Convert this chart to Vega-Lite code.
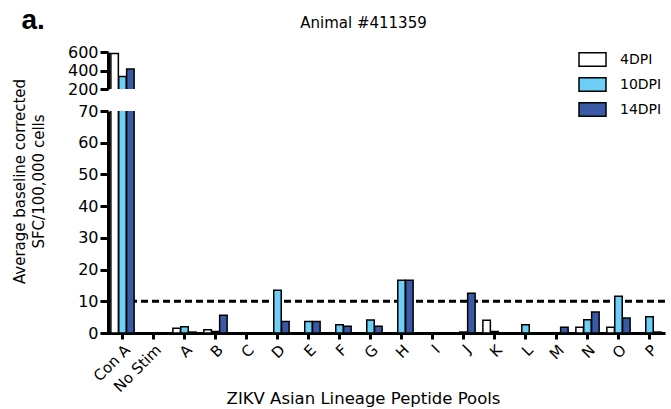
{
  "$schema": "https://vega.github.io/schema/vega-lite/v6.json",
  "padding": {"left": 11, "top": 6, "right": 2, "bottom": 0},
  "background": "white",
  "config": {
    "font": "DejaVu Sans",
    "view": {"stroke": null},
    "axis": {
      "domainColor": "black", "domainWidth": 3, "tickColor": "black", "tickWidth": 3,
      "labelColor": "black", "titleColor": "black", "labelFont": "DejaVu Sans",
      "titleFont": "DejaVu Sans", "grid": false, "titleFontWeight": "normal", "labelOverlap": false
    },
    "axisY": {"tickSize": 8, "labelFontSize": 16, "labelPadding": 2},
    "axisX": {"tickSize": 6, "labelFontSize": 15, "labelPadding": 3},
    "legend": {
      "orient": "none", "legendX": 471, "legendY": -7, "title": null,
      "symbolType": "M-1,-0.5H1V0.5H-1Z", "symbolSize": 729,
      "symbolStrokeColor": "black", "symbolStrokeWidth": 1.5,
      "labelFontSize": 14, "labelColor": "black", "labelFont": "DejaVu Sans",
      "labelOffset": 13, "rowPadding": -3, "padding": 0
    }
  },
  "datasets": {
    "spots": [
      {"pool": "Con A", "dpi": "4DPI", "value": 585},
      {"pool": "Con A", "dpi": "10DPI", "value": 334},
      {"pool": "Con A", "dpi": "14DPI", "value": 415},
      {"pool": "No Stim", "dpi": "4DPI", "value": 0},
      {"pool": "No Stim", "dpi": "10DPI", "value": 0},
      {"pool": "No Stim", "dpi": "14DPI", "value": 0},
      {"pool": "A", "dpi": "4DPI", "value": 1.5},
      {"pool": "A", "dpi": "10DPI", "value": 2.0},
      {"pool": "A", "dpi": "14DPI", "value": 0.3},
      {"pool": "B", "dpi": "4DPI", "value": 1.0},
      {"pool": "B", "dpi": "10DPI", "value": 0.5},
      {"pool": "B", "dpi": "14DPI", "value": 5.6},
      {"pool": "C", "dpi": "4DPI", "value": 0},
      {"pool": "C", "dpi": "10DPI", "value": 0},
      {"pool": "C", "dpi": "14DPI", "value": 0},
      {"pool": "D", "dpi": "4DPI", "value": 0},
      {"pool": "D", "dpi": "10DPI", "value": 13.5},
      {"pool": "D", "dpi": "14DPI", "value": 3.6},
      {"pool": "E", "dpi": "4DPI", "value": 0},
      {"pool": "E", "dpi": "10DPI", "value": 3.6},
      {"pool": "E", "dpi": "14DPI", "value": 3.6},
      {"pool": "F", "dpi": "4DPI", "value": 0},
      {"pool": "F", "dpi": "10DPI", "value": 2.6},
      {"pool": "F", "dpi": "14DPI", "value": 2.1},
      {"pool": "G", "dpi": "4DPI", "value": 0},
      {"pool": "G", "dpi": "10DPI", "value": 4.1},
      {"pool": "G", "dpi": "14DPI", "value": 2.1},
      {"pool": "H", "dpi": "4DPI", "value": 0},
      {"pool": "H", "dpi": "10DPI", "value": 16.6},
      {"pool": "H", "dpi": "14DPI", "value": 16.6},
      {"pool": "I", "dpi": "4DPI", "value": 0},
      {"pool": "I", "dpi": "10DPI", "value": 0},
      {"pool": "I", "dpi": "14DPI", "value": 0},
      {"pool": "J", "dpi": "4DPI", "value": 0},
      {"pool": "J", "dpi": "10DPI", "value": 0.3},
      {"pool": "J", "dpi": "14DPI", "value": 12.5},
      {"pool": "K", "dpi": "4DPI", "value": 4.0},
      {"pool": "K", "dpi": "10DPI", "value": 0.5},
      {"pool": "K", "dpi": "14DPI", "value": 0},
      {"pool": "L", "dpi": "4DPI", "value": 0},
      {"pool": "L", "dpi": "10DPI", "value": 2.6},
      {"pool": "L", "dpi": "14DPI", "value": 0},
      {"pool": "M", "dpi": "4DPI", "value": 0},
      {"pool": "M", "dpi": "10DPI", "value": 0},
      {"pool": "M", "dpi": "14DPI", "value": 1.8},
      {"pool": "N", "dpi": "4DPI", "value": 1.8},
      {"pool": "N", "dpi": "10DPI", "value": 4.2},
      {"pool": "N", "dpi": "14DPI", "value": 6.6},
      {"pool": "O", "dpi": "4DPI", "value": 1.8},
      {"pool": "O", "dpi": "10DPI", "value": 11.6},
      {"pool": "O", "dpi": "14DPI", "value": 4.7},
      {"pool": "P", "dpi": "4DPI", "value": 0},
      {"pool": "P", "dpi": "10DPI", "value": 5.1},
      {"pool": "P", "dpi": "14DPI", "value": 0.3}
    ]
  },
  "bounds": "flush",
  "spacing": 22,
  "vconcat": [
    {
      "width": 558,
      "height": 37,
      "data": {"name": "spots"},
      "transform": [{"filter": "datum.pool === 'Con A'"}],
      "mark": {"type": "bar", "clip": true, "stroke": "black", "strokeWidth": 1.5},
      "encoding": {
        "x": {"field": "pool", "type": "nominal", "sort": null,
              "scale": {"domain": ["Con A", "No Stim", "A", "B", "C", "D", "E", "F", "G", "H", "I", "J", "K", "L", "M", "N", "O", "P"], "paddingInner": 0.25, "paddingOuter": 0.125},
              "axis": {"orient": "top", "domain": false, "ticks": false, "labels": false,
                       "title": "Animal #411359", "titleFontSize": 15, "titleX": 256, "titleY": -25,
                       "titleAlign": "center", "titleBaseline": "alphabetic"}},
        "xOffset": {"field": "dpi", "type": "nominal", "scale": {"domain": ["4DPI", "10DPI", "14DPI"], "paddingInner": 0.05}},
        "y": {"field": "value", "type": "quantitative",
              "scale": {"domain": [200, 600], "zero": false, "nice": false},
              "axis": {"values": [200, 400, 600], "offset": -1, "labelOverlap": false, "title": "a.", "titleAngle": 0, "titleFont": "Liberation Sans", "titleFontSize": 28, "titleFontWeight": "bold", "titleAlign": "left", "titleBaseline": "alphabetic", "titleX": -87, "titleY": -24}},
        "fill": {"field": "dpi", "type": "nominal",
                 "scale": {"domain": ["4DPI", "10DPI", "14DPI"], "range": ["#ffffff", "#6dcff6", "#3b5aa6"]}}
      }
    },
    {
      "width": 558,
      "height": 222,
      "layer": [
        {
          "data": {"values": [{}]},
          "mark": {"type": "rule", "strokeDash": [7, 4], "strokeWidth": 3, "color": "black"},
          "encoding": {
            "y": {"datum": 10, "type": "quantitative",
                  "scale": {"domain": [0, 70], "nice": false},
                  "axis": {"values": [0, 10, 20, 30, 40, 50, 60, 70], "offset": -1, "labelOverlap": false,
                           "title": ["Average baseline corrected", "SFC/100,000 cells"],
                           "titleFontSize": 15, "titleLineHeight": 19, "titleAngle": -90,
                           "titleAlign": "center", "titleBaseline": "top", "titleX": -96, "titleY": 70}}
          }
        },
        {
          "data": {"name": "spots"},
          "mark": {"type": "bar", "clip": true, "stroke": "black", "strokeWidth": 1.5},
          "encoding": {
            "x": {"field": "pool", "type": "nominal", "sort": null,
                  "scale": {"domain": ["Con A", "No Stim", "A", "B", "C", "D", "E", "F", "G", "H", "I", "J", "K", "L", "M", "N", "O", "P"], "paddingInner": 0.25, "paddingOuter": 0.125},
                  "axis": {"labelAngle": -45, "title": "ZIKV Asian Lineage Peptide Pools", "titleFontSize": 16.5, "titleX": 256, "titleY": 57, "titleBaseline": "top"}},
            "xOffset": {"field": "dpi", "type": "nominal", "scale": {"domain": ["4DPI", "10DPI", "14DPI"], "paddingInner": 0.05}},
            "y": {"field": "value", "type": "quantitative",
                  "scale": {"domain": [0, 70], "nice": false},
                  "axis": {"values": [0, 10, 20, 30, 40, 50, 60, 70], "offset": -1, "labelOverlap": false,
                           "title": ["Average baseline corrected", "SFC/100,000 cells"],
                           "titleFontSize": 15, "titleLineHeight": 19, "titleAngle": -90,
                           "titleAlign": "center", "titleBaseline": "top", "titleX": -96, "titleY": 70}},
            "fill": {"field": "dpi", "type": "nominal",
                     "scale": {"domain": ["4DPI", "10DPI", "14DPI"], "range": ["#ffffff", "#6dcff6", "#3b5aa6"]}}
          }
        }
      ]
    }
  ]
}
